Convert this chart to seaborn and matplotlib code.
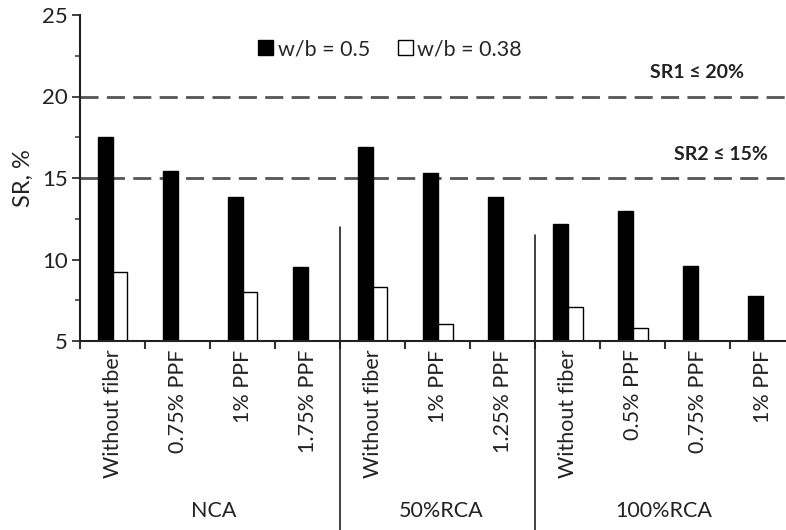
import numpy as np
import pandas as pd
import matplotlib
matplotlib.use('Agg')
import matplotlib.pyplot as plt
import seaborn as sns
from matplotlib.ticker import MultipleLocator, FixedLocator
from matplotlib.transforms import blended_transform_factory

# data
groups = ['NCA', '50%RCA', '100%RCA']
group_sizes = [4, 3, 4]
fibers = ['Without fiber', '0.75% PPF', '1% PPF', '1.75% PPF',
          'Without fiber', '1% PPF', '1.25% PPF',
          'Without fiber', '0.5% PPF', '0.75% PPF', '1% PPF']
sr_w05 = [17.5, 15.4, 13.85, 9.55, 16.9, 15.3, 13.85, 12.2, 12.95, 9.6, 7.75]
sr_w038 = [9.25, np.nan, 8.0, np.nan, 8.3, 6.05, np.nan, 7.1, 5.8, np.nan, np.nan]
series = ['w/b = 0.5', 'w/b = 0.38']
limits = [20, 15]
limit_labels = ['SR1 ≤ 20%', 'SR2 ≤ 15%']
sep_tops = [12.0, 11.5]

keys = [str(i) for i in range(len(fibers))]
df = pd.DataFrame({
    'key': keys * 2,
    'SR': sr_w05 + sr_w038,
    'wb': [series[0]] * len(keys) + [series[1]] * len(keys),
})

sns.set_style('ticks')
plt.rcParams['font.family'] = ['Lato', 'DejaVu Sans']

fig = plt.figure(figsize=(7.86, 5.3), dpi=100)
ax = fig.add_axes([80 / 786, 189 / 530, 706 / 786, 326 / 530])

sns.barplot(data=df, x='key', y='SR', hue='wb', order=keys, hue_order=series,
            palette=['black', 'white'], edgecolor='black', linewidth=1,
            width=0.46, saturation=1, errorbar=None, ax=ax)

ax.set_ylim(5, 25)
ax.set_xlim(-0.5, 10.36)
ax.yaxis.set_major_locator(MultipleLocator(5))
ax.yaxis.set_minor_locator(MultipleLocator(2.5))
ax.set_ylabel('SR, %', fontsize=17, labelpad=6, color='#222222')
ax.set_xlabel('')
ax.tick_params(axis='y', which='major', labelsize=16, length=6, width=1.3,
               color='#333333', labelcolor='#222222', pad=3)
ax.tick_params(axis='y', which='minor', length=3.5, width=1.1, color='#333333')

ax.set_xticks(range(len(fibers)))
ax.set_xticklabels(fibers, rotation=90, fontsize=15.5, va='top', color='#222222')
ax.tick_params(axis='x', which='major', length=0, pad=6)
ax.xaxis.set_minor_locator(FixedLocator(np.arange(-0.5, len(fibers) - 0.5, 1)))
ax.tick_params(axis='x', which='minor', length=6, width=1.5, color='#333333')

sns.despine(ax=ax)
for s in ['left', 'bottom']:
    ax.spines[s].set_linewidth(1.5)
    ax.spines[s].set_color('#222222')

# limit lines
label_x = [0.94, 0.975]
for val, lab, lx in zip(limits, limit_labels, label_x):
    ax.axhline(val, color='#555555', lw=2, ls=(0, (6.5, 3)), zorder=0)
    ax.text(lx, val + 1.45, lab, transform=blended_transform_factory(ax.transAxes, ax.transData),
            ha='right', va='center', fontsize=14, fontweight='bold', color='#222222')

# group separators and names
bounds = np.cumsum(group_sizes) - 0.5
starts = np.concatenate([[-0.5], bounds[:-1]])
for b, top in zip(bounds[:-1], sep_tops):
    ax.plot([b, b], [top, -7], color='#222222', lw=1.2, clip_on=False)
trans = blended_transform_factory(ax.transData, ax.transAxes)
for g, s0, s1 in zip(groups, starts, bounds):
    ax.text((s0 + min(s1, 10.36)) / 2 + 0.05, -0.52, g, transform=trans, ha='center', va='center',
            fontsize=15.5, color='#222222')

ax.legend(ncol=2, frameon=False, fontsize=15.5, loc='upper left',
          bbox_to_anchor=(239 / 786, 1 - 20 / 530), bbox_transform=fig.transFigure,
          handlelength=0.7, handleheight=0.7, handletextpad=0.2, columnspacing=1.3)

fig.savefig('out.png', dpi=100)
